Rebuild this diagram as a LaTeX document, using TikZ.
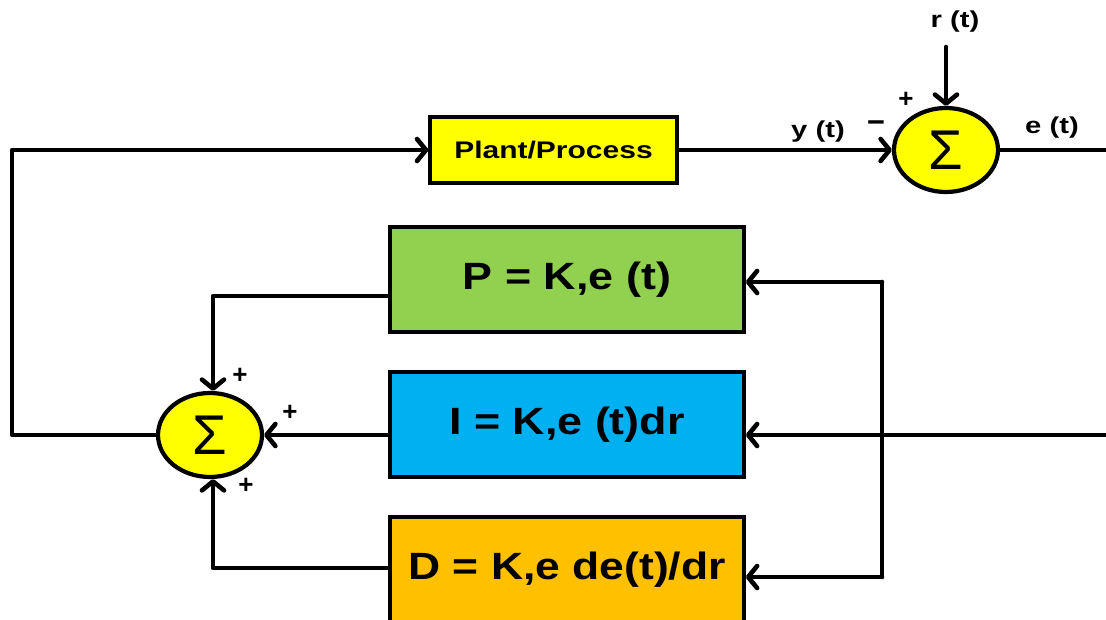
\documentclass[tikz,border=0pt]{standalone}
\usepackage{fontspec}
\usepackage{graphicx}
\setmainfont{Liberation Sans}
\usetikzlibrary{arrows.meta,shapes.geometric}

\definecolor{plantyellow}{HTML}{FFFF00}
\definecolor{pgreen}{HTML}{92D050}
\definecolor{iblue}{HTML}{00B0F0}
\definecolor{dorange}{HTML}{FFC000}

% horizontally widened bold text
\newcommand{\widetext}[3]{\fontsize{#1}{#1}\selectfont\bfseries\scalebox{#2}[1]{#3}}

\tikzset{
  wire/.style={line width=4.6pt, line cap=round, line join=round},
  arr/.style={wire, -{Straight Barb[length=9pt,width=22pt,line width=4.6pt,round]}},
  blockbox/.style={draw, line width=3.6pt, rectangle, inner sep=0pt,
    minimum width=354pt, minimum height=105pt},
  summer/.style={draw, line width=4.2pt, ellipse, fill=plantyellow, inner sep=0pt,
    minimum width=104pt, minimum height=84pt},
  signtext/.style={font=\fontsize{26}{26}\selectfont\bfseries},
}

\begin{document}
\begin{tikzpicture}[x=1pt,y=-1pt]
  \useasboundingbox (0,0) rectangle (1106,620);
  \clip (0,0) rectangle (1106,620);

  % blocks
  \node[draw, line width=3.4pt, fill=plantyellow, minimum width=247pt, minimum height=66pt, inner sep=0pt]
    (Plant) at (553.5,150) {\widetext{24}{1.25}{Plant/Process}};
  \node[blockbox, fill=pgreen]   (P) at (567,279.5) {\widetext{38}{1.18}{P = K,e (t)}};
  \node[blockbox, fill=iblue]    (I) at (567,424.5) {\widetext{38}{1.18}{I = K,e (t)dr}};
  \node[blockbox, fill=dorange]  (D) at (567,569.5) {\raisebox{-3pt}{\widetext{38}{1.17}{D = K,e de(t)/dr}}};

  % summing junctions
  \node[summer] (S1) at (946,150) {\raisebox{-3pt}{\fontsize{56}{56}\selectfont Σ}};
  \node[summer] (S2) at (210,435) {\raisebox{-3pt}{\fontsize{56}{56}\selectfont Σ}};

  % signal labels
  \node (rlab) at (955,22) {\widetext{23}{1.27}{r (t)}};
  \node (ylab) at (818,132) {\widetext{23}{1.27}{y (t)}};
  \node (elab) at (1052,128) {\widetext{23}{1.27}{e (t)}};

  % signs at the junctions
  \node[signtext] (s1p) at (906,100) {+};
  \node[signtext] (s1m) at (876,126) {\scalebox{1.2}[1.3]{--}};
  \node[signtext] (s2a) at (240,376) {+};
  \node[signtext] (s2b) at (290,413) {+};
  \node[signtext] (s2c) at (246,486) {+};

  % free ends of the wires
  \coordinate (R)  at (946,47);
  \coordinate (E1) at (1110,150);
  \coordinate (E2) at (1110,435);
  \coordinate (V1) at (882,282);
  \coordinate (V2) at (882,577);
  \coordinate (L1) at (12,435);
  \coordinate (L2) at (12,150);

  % forward path
  \draw[arr] (R) -- (S1.north);
  \draw[arr] (Plant.east) -- (S1.west);
  \draw[wire] (S1.east) -- (E1);

  % error distribution to the three terms
  \draw[arr] (E2) -- ([yshift=-10.5pt]I.east);
  \draw[wire] (V1) -- (V2);
  \draw[arr] (V1) -- ([yshift=-2.5pt]P.east);
  \draw[arr] (V2) -- ([yshift=-7.5pt]D.east);

  % term outputs into the lower summer
  \draw[arr] ([yshift=-16.5pt]P.west) -| ([xshift=3pt]S2.north);
  \draw[arr] ([yshift=-10.5pt]I.west) -- (S2.east);
  \draw[arr] ([yshift=1.5pt]D.west) -| ([xshift=3pt]S2.south);

  % controller output back to the plant
  \draw[arr] (S2.west) -- (L1) -- (L2) -- (Plant.west);
\end{tikzpicture}
\end{document}
